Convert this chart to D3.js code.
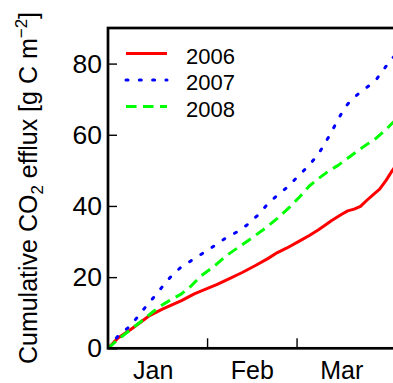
<!DOCTYPE html>
<html>
<head>
<meta charset="utf-8">
<script src="https://cdn.jsdelivr.net/npm/d3@7"></script>
<style>
  html, body { margin: 0; padding: 0; background: #fff; }
  svg text { font-family: "Liberation Sans", Arial, Helvetica, sans-serif; fill: #000; }
</style>
</head>
<body>
<svg id="chart" width="393" height="383"></svg>
<script>
// Cumulative CO2 efflux, days counted from 1 January
const days2006 = [0, 3, 7, 10, 13, 17, 20, 23, 27, 30, 34, 38, 42, 46, 50, 53, 56, 60, 63, 66, 70, 73, 75, 77, 79, 81, 83, 85, 87, 89, 91];
const flux2006 = [0, 2.8, 5.2, 7.2, 9.2, 11.0, 12.2, 13.4, 15.3, 16.4, 17.9, 19.6, 21.3, 23.2, 25.2, 26.9, 28.2, 30.2, 31.7, 33.4, 35.9, 37.6, 38.6, 39.1, 39.9, 41.6, 43.2, 44.7, 47.2, 50.0, 52.5];

const days2007 = [0, 3, 7, 11, 14, 17, 20, 23, 26, 30, 34, 37, 41, 44, 47, 50, 53, 56, 60, 63, 66, 69, 72, 74, 76, 79, 82, 84, 86, 88, 91];
const flux2007 = [0, 3.3, 6.3, 10.8, 14.0, 17.3, 20.5, 22.9, 24.6, 26.9, 29.2, 31.1, 33.0, 35.0, 37.5, 40.6, 43.0, 45.2, 48.8, 51.5, 54.8, 59.3, 64.3, 67.5, 69.7, 72.0, 74.0, 75.6, 78.0, 80.5, 83.5];

const days2008 = [0, 3, 7, 11, 14, 17, 20, 23, 26, 29, 33, 37, 41, 45, 49, 53, 57, 60, 63, 66, 69, 72, 75, 78, 81, 84, 87, 89, 91];
const flux2008 = [0, 2.4, 5.2, 8.0, 10.2, 12.2, 13.8, 15.3, 17.5, 20.3, 22.9, 26.0, 28.5, 31.0, 33.6, 36.5, 39.8, 42.6, 45.6, 47.8, 49.8, 51.4, 53.4, 55.4, 57.3, 59.1, 61.5, 63.3, 65.0];

const yearLabels = ["2006", "2007", "2008"];
const monthStarts = [31, 59];          // 1 Feb, 1 Mar
const monthMids = [14, 45, 73];        // 15th of each month
const monthLabels = ["Jan", "Feb", "Mar"];
const yTicks = [0, 20, 40, 60, 80];

const series = [
  { name: yearLabels[0], days: days2006, flux: flux2006, color: "#ff0000", dash: null, cap: "butt" },
  { name: yearLabels[1], days: days2007, flux: flux2007, color: "#0000ff", dash: "2,11.3", cap: "round" },
  { name: yearLabels[2], days: days2008, flux: flux2008, color: "#00ff00", dash: "10.5,6.5", cap: "butt" }
];

const svg = d3.select("#chart");
const plotLeft = 108, plotTop = 28, plotBottom = 348.3;
const x = d3.scaleLinear().domain([0, 91]).range([plotLeft, plotLeft + 91 * 3.196]);
const y = d3.scaleLinear().domain([0, 90]).range([plotBottom, plotTop]);
const plotRight = x.range()[1];

svg.append("clipPath").attr("id", "plotClip")
  .append("rect").attr("x", plotLeft).attr("y", plotTop)
  .attr("width", plotRight - plotLeft).attr("height", plotBottom - plotTop);

// data lines
const line = d3.line().x(d => x(d[0])).y(d => y(d[1]));
const plot = svg.append("g").attr("clip-path", "url(#plotClip)");
series.forEach(s => {
  plot.append("path")
    .datum(s.days.map((d, i) => [d, s.flux[i]]))
    .attr("d", line)
    .attr("fill", "none")
    .attr("stroke", s.color)
    .attr("stroke-width", 3)
    .attr("stroke-linecap", s.cap)
    .attr("stroke-linejoin", "round")
    .attr("stroke-dasharray", s.dash);
});

// y axis with inward ticks
const yAxis = svg.append("g").attr("transform", `translate(${plotLeft},0)`)
  .call(d3.axisLeft(y).tickValues(yTicks).tickSize(-9).tickSizeOuter(0).tickPadding(6));
yAxis.select(".domain").remove();
yAxis.selectAll("line").attr("stroke", "#000").attr("stroke-width", 1.4);
yAxis.selectAll("text").style("font-size", "26.5px");

// x axis: month boundary ticks
const xAxis = svg.append("g").attr("transform", `translate(0,${plotBottom})`)
  .call(d3.axisBottom(x).tickValues(monthStarts).tickSize(-10).tickSizeOuter(0).tickFormat(""));
xAxis.select(".domain").remove();
xAxis.selectAll("line").attr("stroke", "#000").attr("stroke-width", 1.4);

// x axis: month names centred mid-month
const xLab = svg.append("g").attr("transform", `translate(0,${plotBottom})`)
  .call(d3.axisBottom(x).tickValues(monthMids).tickSize(0).tickPadding(13.2)
    .tickFormat((d, i) => monthLabels[i]));
xLab.select(".domain").remove();
xLab.selectAll("text").style("font-size", "25px");

// plot frame
svg.append("rect")
  .attr("x", plotLeft).attr("y", plotTop)
  .attr("width", plotRight - plotLeft).attr("height", plotBottom - plotTop)
  .attr("fill", "none").attr("stroke", "#000").attr("stroke-width", 2.7);

// y axis title
const title = svg.append("text")
  .attr("transform", "translate(37,188) rotate(-90)")
  .attr("text-anchor", "middle")
  .style("font-size", "25px");
title.append("tspan").text("Cumulative CO");
title.append("tspan").text("2").style("font-size", "17px").attr("dy", 6);
title.append("tspan").text(" efflux [g C m").attr("dy", -6);
title.append("tspan").text("\u22122").style("font-size", "17px").attr("dy", -10);
title.append("tspan").text("]").attr("dy", 10);

// legend
const legend = svg.append("g");
series.forEach((s, i) => {
  const ly = 53.5 + i * 26.5;
  legend.append("line")
    .attr("x1", 126).attr("x2", 167).attr("y1", ly).attr("y2", ly)
    .attr("stroke", s.color).attr("stroke-width", 3)
    .attr("stroke-linecap", s.cap)
    .attr("stroke-dasharray", s.dash);
  legend.append("text")
    .attr("x", 186).attr("y", ly + 10)
    .style("font-size", "22px")
    .text(s.name);
});
</script>
</body>
</html>
